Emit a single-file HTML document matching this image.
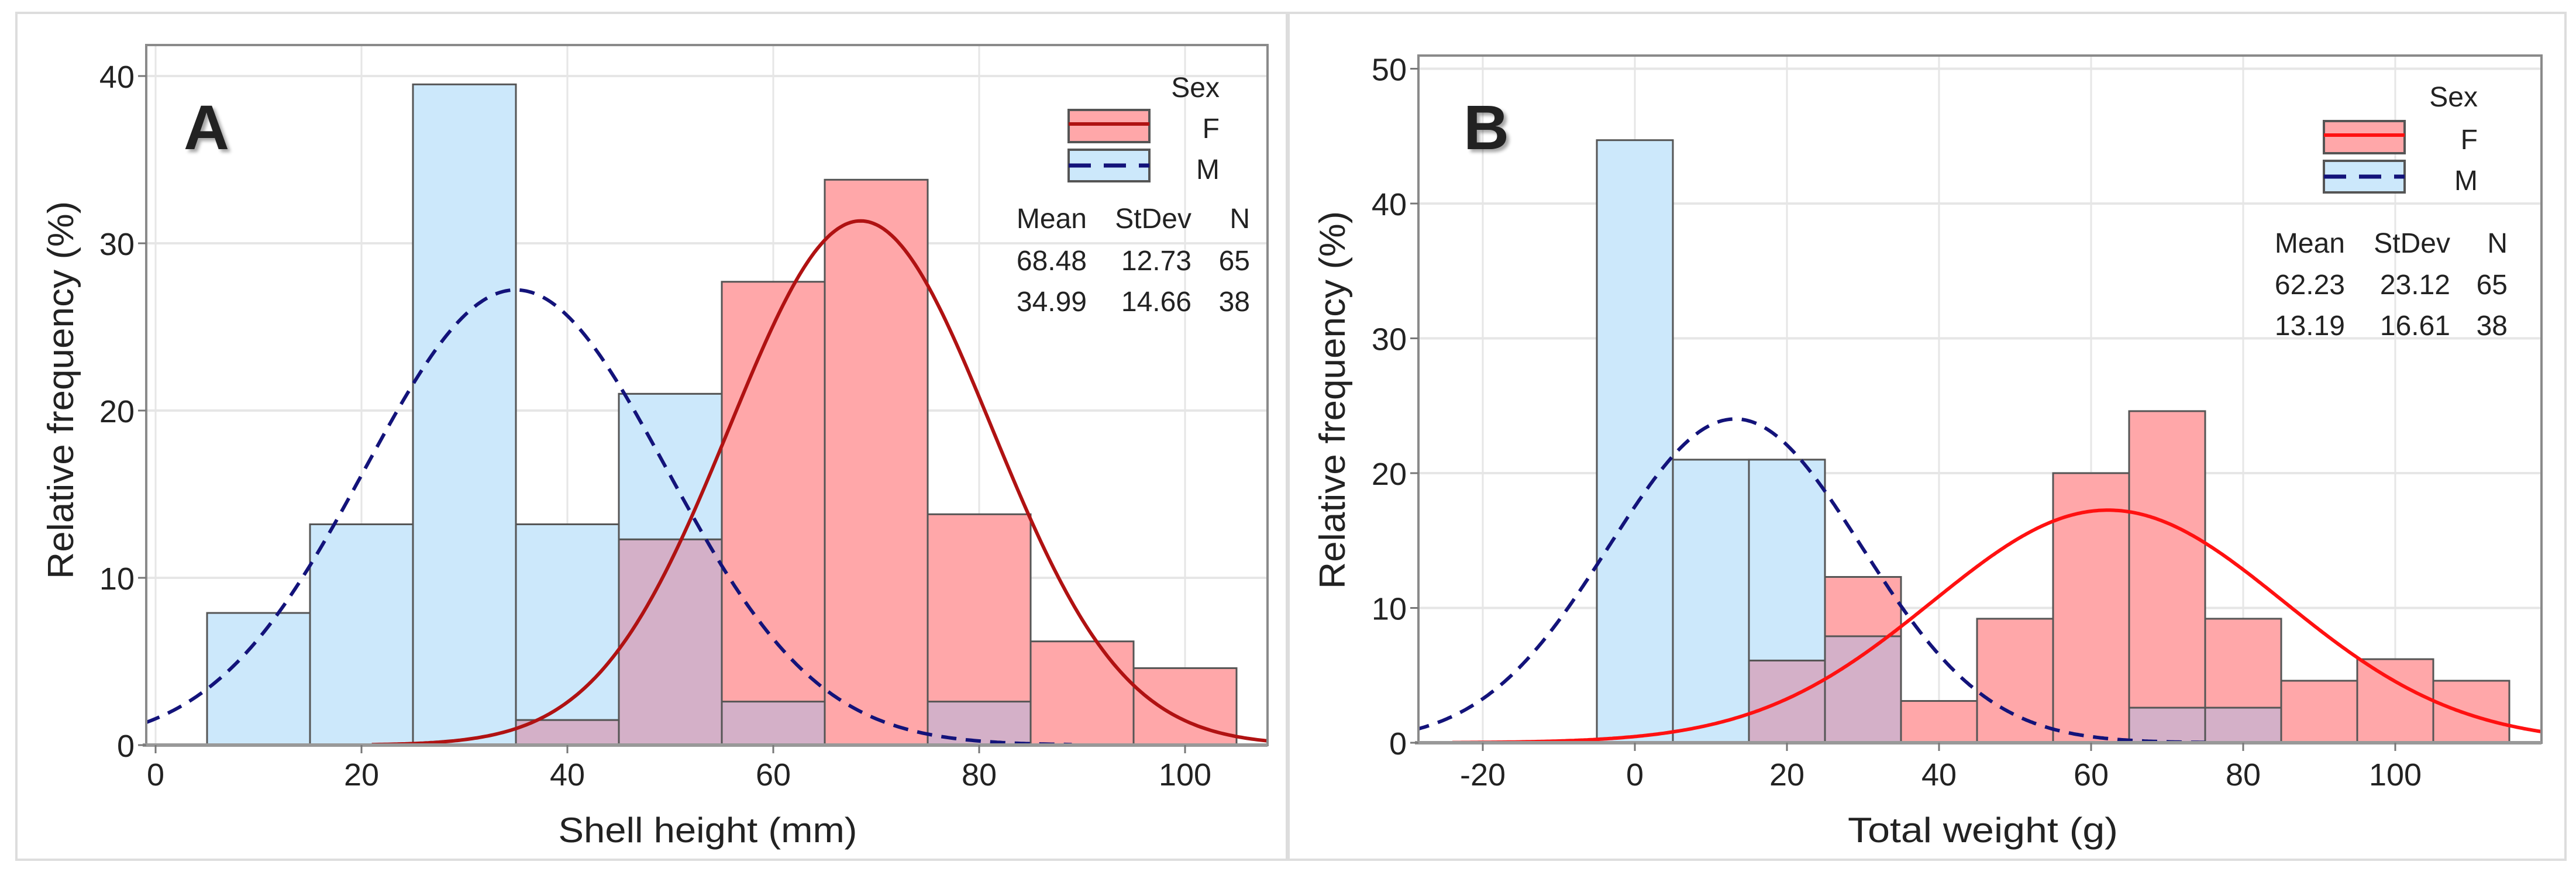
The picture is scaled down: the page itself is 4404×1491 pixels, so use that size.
<!DOCTYPE html>
<html><head><meta charset="utf-8">
<style>
html,body{margin:0;padding:0;background:#fff;}
svg{display:block;}
text{font-family:"Liberation Sans",sans-serif;fill:#222;}
</style></head>
<body>
<svg id="chart" width="4404" height="1491" viewBox="0 0 4404 1491" xmlns="http://www.w3.org/2000/svg">
<defs>
<filter id="sh" x="-20%" y="-20%" width="150%" height="150%"><feDropShadow dx="5" dy="5" stdDeviation="3" flood-color="#000" flood-opacity="0.35"/></filter>
<clipPath id="clipA"><rect x="250" y="77" width="1917" height="1197"/></clipPath>
<clipPath id="clipB"><rect x="2425" y="95" width="1920" height="1175"/></clipPath>
</defs>
<rect x="28" y="22" width="2172" height="1448" fill="none" stroke="#ddd" stroke-width="4"/>
<rect x="2203" y="22" width="2183" height="1448" fill="none" stroke="#ddd" stroke-width="4"/>
<g id="pa"></g>
<g id="pb"></g>
</svg>
<script>
// Panel A data (Shell height)
const binStartsA = [5,15,25,35,45,55,65,75,85,95];
const maleA   = [7.9,13.2,39.5,13.2,21.0,2.6,0,2.6,0,0];
const femaleA = [0,0,0,1.5,12.3,27.7,33.8,13.8,6.2,4.6];
const statsA_F = [68.48,12.73,65];
const statsA_M = [34.99,14.66,38];
const xTicksA = [0,20,40,60,80,100];
const yTicksA = [0,10,20,30,40];
// Panel B data (Total weight)
const binStartsB = [-5,5,15,25,35,45,55,65,75,85,95,105];
const maleB   = [44.7,21.0,21.0,7.9,0,0,0,2.6,2.6,0,0,0];
const femaleB = [0,0,6.1,12.3,3.1,9.2,20.0,24.6,9.2,4.6,6.2,4.6];
const statsB_F = [62.23,23.12,65];
const statsB_M = [13.19,16.61,38];
const xTicksB = [-20,0,20,40,60,80,100];
const yTicksB = [0,10,20,30,40,50];

const NS="http://www.w3.org/2000/svg";
function mk(parent,tag,attrs,txt){const e=document.createElementNS(NS,tag);for(const k in attrs)e.setAttribute(k,attrs[k]);if(txt!==undefined)e.textContent=txt;parent.appendChild(e);return e;}

function panel(g,cfg){
  const X=v=>cfg.x0+(v-cfg.xmin)*cfg.sx;
  const Y=v=>cfg.y0-v*cfg.sy;
  const L=cfg.left,R=cfg.right,T=cfg.top,B=cfg.y0;
  cfg.xt.forEach(t=>{const l=mk(g,'line',{x1:X(t),x2:X(t),y1:T,y2:B,stroke:'#e6e6e6','stroke-width':3});
    
    });
  cfg.yt.forEach(t=>{const l=mk(g,'line',{x1:L,x2:R,y1:Y(t),y2:Y(t),stroke:'#e6e6e6','stroke-width':4});
    
    });
  const w=10;
  cfg.bins.forEach((s,i)=>{
    const m=cfg.male[i];
    if(m>0){const r=mk(g,'rect',{x:X(s),y:Y(m),width:w*cfg.sx,height:B-Y(m),fill:'#cce8fb',stroke:'#555','stroke-width':3});
      
      }
  });
  cfg.bins.forEach((s,i)=>{
    const m=cfg.male[i],f=cfg.female[i];
    if(f>0){const r=mk(g,'rect',{x:X(s),y:Y(f),width:w*cfg.sx,height:B-Y(f),fill:'#ffa7a9',stroke:'#555','stroke-width':3});
      
      }
    if(f>0&&m>0){const mn=Math.min(m,f);const r=mk(g,'rect',{x:X(s),y:Y(mn),width:w*cfg.sx,height:B-Y(mn),fill:'#d4b0c8',stroke:'#555','stroke-width':3});
      
      }
    if(f>0&&m>f){const r=mk(g,'rect',{x:X(s),y:Y(m),width:w*cfg.sx,height:Y(f)-Y(m),fill:'#cce8fb',stroke:'#555','stroke-width':3});
      
      }
  });
  const curve=(st,from,to,color,dash,name)=>{
    let d='';const mu=st[0],sd=st[1];
    for(let v=from;v<=to;v+=0.25){const y=1000/(sd*Math.sqrt(2*Math.PI))*Math.exp(-0.5*((v-mu)/sd)**2);
      d+=(d?'L':'M')+X(v).toFixed(1)+','+Y(y).toFixed(1);}
    const p=mk(g,'path',{d:d,fill:'none',stroke:color,'stroke-width':6,'clip-path':cfg.clip});
    if(dash)p.setAttribute('stroke-dasharray','26 16');
    
    
  };
  curve(cfg.sF,cfg.fFrom,cfg.xmax,cfg.fColor,false,'female-normal-curve');
  curve(cfg.sM,cfg.mFrom,cfg.mTo,'#13137a',true,'male-normal-curve');
  const fr=mk(g,'rect',{x:L,y:T,width:R-L,height:B-T,fill:'none',stroke:'#8a8a8a','stroke-width':4});
  
  
  mk(g,'line',{x1:L-6,x2:R,y1:B,y2:B,stroke:'#999','stroke-width':6});
  cfg.xt.forEach(t=>{mk(g,'line',{x1:X(t),x2:X(t),y1:B,y2:B+14,stroke:'#777','stroke-width':3});
    const tx=mk(g,'text',{x:X(t),y:1343,'text-anchor':'middle','font-size':54},String(t));
    
    });
  cfg.yt.forEach(t=>{mk(g,'line',{x1:L-14,x2:L,y1:Y(t),y2:Y(t),stroke:'#777','stroke-width':3});
    const tx=mk(g,'text',{x:L-20,y:Y(t)+20,'text-anchor':'end','font-size':54},String(t));
    
    });
  const xt=mk(g,'text',{x:cfg.xtX,y:1440,'text-anchor':'middle','font-size':60,textLength:cfg.xtW,lengthAdjust:'spacingAndGlyphs'},cfg.xtitle);
  
  
  const yt=mk(g,'text',{x:0,y:0,'text-anchor':'middle','font-size':62,textLength:646,lengthAdjust:'spacingAndGlyphs',transform:`translate(${cfg.ytX},${cfg.ytY}) rotate(-90)`},'Relative frequency (%)');
  
  
  const pl=mk(g,'text',{x:cfg.lblX,y:cfg.lblY,'font-size':108,'font-weight':'bold',fill:'#000',filter:'url(#sh)'},cfg.label);
  
  
  const lg=cfg.lg;
  const sx=mk(g,'text',{x:lg.right,y:lg.sexY,'text-anchor':'end','font-size':48},'Sex');
  
  
  const bf=mk(g,'rect',{x:lg.bx,y:lg.fy,width:138,height:55,fill:'#ffa7a9',stroke:'#555','stroke-width':4});
  
  
  mk(g,'line',{x1:lg.bx,x2:lg.bx+138,y1:lg.fy+24,y2:lg.fy+24,stroke:cfg.fColor,'stroke-width':6});
  const bm=mk(g,'rect',{x:lg.bx,y:lg.my,width:138,height:54,fill:'#cce8fb',stroke:'#555','stroke-width':4});
  
  
  mk(g,'line',{x1:lg.bx,x2:lg.bx+138,y1:lg.my+27,y2:lg.my+27,stroke:'#13137a','stroke-width':7,'stroke-dasharray':'38 22'});
  const lf=mk(g,'text',{x:lg.right,y:lg.fy+48,'text-anchor':'end','font-size':48},'F');
  
  
  const lm=mk(g,'text',{x:lg.right,y:lg.my+50,'text-anchor':'end','font-size':48},'M');
  
  
  const cols=[lg.c1,lg.c2,lg.c3];
  const rows=[['Mean','StDev','N'],[cfg.sF[0].toFixed(2),cfg.sF[1].toFixed(2),String(cfg.sF[2])],[cfg.sM[0].toFixed(2),cfg.sM[1].toFixed(2),String(cfg.sM[2])]];
  rows.forEach((r,ri)=>r.forEach((c,ci)=>{
    const t=mk(g,'text',{x:cols[ci],y:lg.rowY[ri],'text-anchor':'end','font-size':48},c);
    
    
  }));
}

panel(document.getElementById('pa'),{
  x0:266,xmin:0,sx:17.6,xmax:108.6,y0:1274,sy:28.6,left:250,right:2167,top:77,
  bins:binStartsA,male:maleA,female:femaleA,sF:statsA_F,sM:statsA_M,xt:xTicksA,yt:yTicksA,
  fFrom:21,mFrom:-1,mTo:89,fColor:'#b01212',clip:'url(#clipA)',
  xtitle:'Shell height (mm)',xtX:1210,xtW:511,ytX:125,ytY:667,label:'A',lblX:314,lblY:255,
  lg:{right:2085,sexY:166,bx:1827,fy:188,my:256,c1:1858,c2:2037,c3:2137,rowY:[390,462,532]}
});
panel(document.getElementById('pb'),{
  x0:2795,xmin:0,sx:13.0,xmax:119.5,y0:1270,sy:23.05,left:2425,right:4345,top:95,
  bins:binStartsB,male:maleB,female:femaleB,sF:statsB_F,sM:statsB_M,xt:xTicksB,yt:yTicksB,
  fFrom:-24,mFrom:-29,mTo:75,fColor:'#ff1111',clip:'url(#clipB)',
  xtitle:'Total weight (g)',xtX:3390,xtW:462,ytX:2299,ytY:684,label:'B',lblX:2502,lblY:255,
  lg:{right:4236,sexY:182,bx:3973,fy:207,my:275,c1:4009,c2:4189,c3:4287,rowY:[432,503,573]}
});
</script>
</body></html>
